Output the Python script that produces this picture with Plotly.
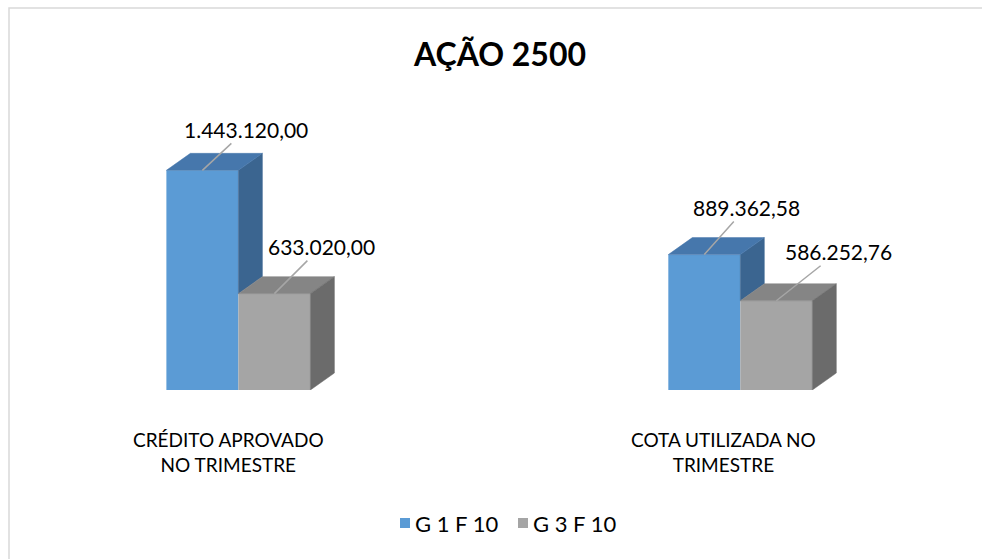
import plotly.graph_objects as go

# ---- data ----
categories = ["CRÉDITO APROVADO<br>NO TRIMESTRE", "COTA UTILIZADA NO<br>TRIMESTRE"]
series_names = ["G 1 F 10", "G 3 F 10"]
g1_values = [1443120.00, 889362.58]
g3_values = [633020.00, 586252.76]
title_text = "AÇÃO 2500"

# ---- style ----
FONT = "Lato"
front = {"G 1 F 10": "#5B9BD5", "G 3 F 10": "#A5A5A5"}
top_c = {"G 1 F 10": "#4677AC", "G 3 F 10": "#858585"}
side_c = {"G 1 F 10": "#3B6590", "G 3 F 10": "#6B6B6B"}

W, H = 982, 559
L, R, T, B = 138, 916, 116, 390
XR = [-0.2, 1.35]
YR = [0, 1.8e6]
px_x = (R - L) / (XR[1] - XR[0])
px_y = (B - T) / (YR[1] - YR[0])
bw = 72 / px_x          # bar width in x units
ddx = 24 / px_x         # depth offset x
ddy = 17 / px_y         # depth offset y


def fmt_br(v):
    s = f"{v:,.2f}"
    return s.replace(",", "X").replace(".", ",").replace("X", ".")


def pxx(p):
    return (p - L) / (R - L)


def pxy(p):
    return (B - p) / (B - T)


fig = go.Figure()
xs = list(range(len(categories)))
fig.add_trace(go.Bar(x=xs, y=g1_values, width=bw, offset=-bw, name=series_names[0],
                     marker=dict(color=front[series_names[0]], line=dict(width=0))))
fig.add_trace(go.Bar(x=xs, y=g3_values, width=bw, offset=0, name=series_names[1],
                     marker=dict(color=front[series_names[1]], line=dict(width=0))))


def poly(px, py, color):
    fig.add_trace(go.Scatter(x=px + [px[0]], y=py + [py[0]], mode="lines", fill="toself",
                             fillcolor=color, line=dict(color=color, width=0.5),
                             hoverinfo="skip", showlegend=False))


for i in xs:
    vb, vg = g1_values[i], g3_values[i]
    x0, x1 = i - bw, i
    poly([x1, x1 + ddx, x1 + ddx, x1], [vg, vg + ddy, vb + ddy, vb], side_c[series_names[0]])
    poly([x0, x0 + ddx, x1 + ddx, x1], [vb, vb + ddy, vb + ddy, vb], top_c[series_names[0]])
    x0, x1 = i, i + bw
    poly([x0, x0 + ddx, x1 + ddx, x1], [vg, vg + ddy, vg + ddy, vg], top_c[series_names[1]])
    poly([x1, x1 + ddx, x1 + ddx, x1], [0, ddy, vg + ddy, vg], side_c[series_names[1]])

# data labels with leader lines
offsets_g1 = [(44, -41), (42, -47)]
offsets_g3 = [(47, -47), (62, -49)]
for i in xs:
    for vals, offs, xc in ((g1_values, offsets_g1, i - bw / 2), (g3_values, offsets_g3, i + bw / 2)):
        fig.add_annotation(x=xc, y=vals[i], xref="x", yref="y", text=fmt_br(vals[i]),
                           showarrow=True, arrowhead=0, arrowwidth=1.5, arrowcolor="#A6A6A6",
                           ax=offs[i][0], ay=offs[i][1], standoff=0,
                           font=dict(family=FONT, size=21, color="#000000"))

# category labels
cat_shift = [-10, -17]
for i, c in enumerate(categories):
    fig.add_annotation(x=i, y=0, xref="x", yref="y", text=c, showarrow=False,
                       xanchor="center", yanchor="middle", align="center",
                       xshift=cat_shift[i], yshift=-62,
                       font=dict(family=FONT, size=19, color="#000000"))

# legend (drawn manually to match compact swatch spacing)
leg_sq_x = [400, 518]
for k, name in enumerate(series_names):
    fig.add_shape(type="rect", xref="paper", yref="paper",
                  x0=pxx(leg_sq_x[k]), x1=pxx(leg_sq_x[k] + 10),
                  y0=pxy(528), y1=pxy(518),
                  fillcolor=front[name], line=dict(width=0))
    fig.add_annotation(x=pxx(leg_sq_x[k] + 13), y=pxy(523), xref="paper", yref="paper",
                       text=name, showarrow=False, xanchor="left", yanchor="middle",
                       font=dict(family=FONT, size=22, color="#000000"))

# chart border (left & top visible)
fig.add_shape(type="rect", xref="paper", yref="paper",
              x0=pxx(9), x1=pxx(995), y0=pxy(575), y1=pxy(8),
              line=dict(color="#D9D9D9", width=1.5), fillcolor="rgba(0,0,0,0)", layer="below")

fig.update_layout(
    width=W, height=H,
    margin=dict(l=L, r=W - R, t=T, b=H - B, pad=0),
    paper_bgcolor="white", plot_bgcolor="white",
    title=dict(text="<b>" + title_text + "</b>", x=500 / W, xref="container", xanchor="center",
               y=1 - 55 / H, yref="container", yanchor="middle",
               font=dict(family=FONT, size=32, color="#000000")),
    xaxis=dict(range=XR, showgrid=False, zeroline=False, showticklabels=False, showline=False,
               ticks=""),
    yaxis=dict(range=YR, showgrid=False, zeroline=False, showticklabels=False, showline=False,
               ticks=""),
    showlegend=False,
    barmode="overlay",
)

fig.write_html("out.html", config={"displayModeBar": False},
               post_script="document.body.style.margin='0';document.body.style.overflow='hidden';")
